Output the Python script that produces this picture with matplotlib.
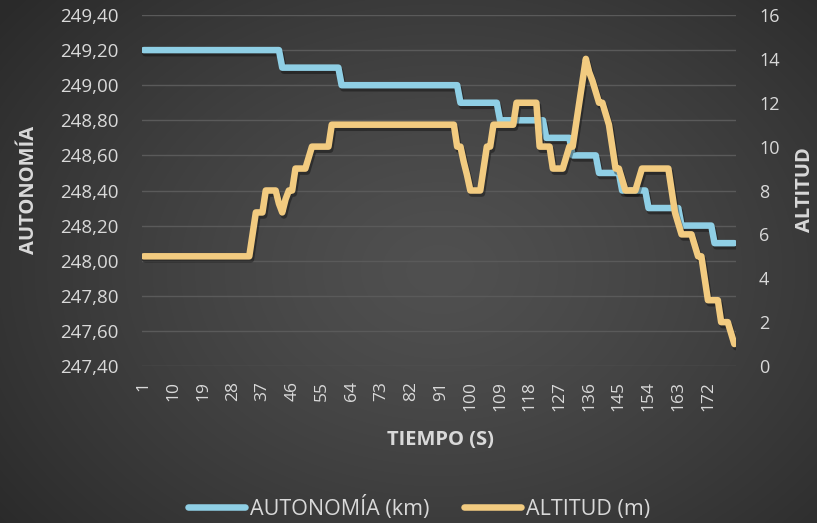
import numpy as np
import matplotlib
matplotlib.use("Agg")
import matplotlib.pyplot as plt
from matplotlib import patheffects as pe
from matplotlib.ticker import FuncFormatter

# Etiquetas del eje de tiempo (una cada 9 muestras)
tiempo_etiquetas = ["1", "10", "19", "28", "37", "46", "55", "64", "73", "82",
                    "91", "100", "109", "118", "127", "136", "145", "154", "163", "172"]

# Autonomía (km), una muestra por segundo
autonomia_km = [
    249.2, 249.2, 249.2, 249.2, 249.2, 249.2, 249.2, 249.2, 249.2, 249.2,
    249.2, 249.2, 249.2, 249.2, 249.2, 249.2, 249.2, 249.2, 249.2, 249.2,
    249.2, 249.2, 249.2, 249.2, 249.2, 249.2, 249.2, 249.2, 249.2, 249.2,
    249.2, 249.2, 249.2, 249.2, 249.2, 249.2, 249.2, 249.2, 249.2, 249.2,
    249.2, 249.2, 249.1, 249.1, 249.1, 249.1, 249.1, 249.1, 249.1, 249.1,
    249.1, 249.1, 249.1, 249.1, 249.1, 249.1, 249.1, 249.1, 249.1, 249.1,
    249.0, 249.0, 249.0, 249.0, 249.0, 249.0, 249.0, 249.0, 249.0, 249.0,
    249.0, 249.0, 249.0, 249.0, 249.0, 249.0, 249.0, 249.0, 249.0, 249.0,
    249.0, 249.0, 249.0, 249.0, 249.0, 249.0, 249.0, 249.0, 249.0, 249.0,
    249.0, 249.0, 249.0, 249.0, 249.0, 249.0, 248.9, 248.9, 248.9, 248.9,
    248.9, 248.9, 248.9, 248.9, 248.9, 248.9, 248.9, 248.9, 248.8, 248.8,
    248.8, 248.8, 248.8, 248.8, 248.8, 248.8, 248.8, 248.8, 248.8, 248.8,
    248.8, 248.8, 248.7, 248.7, 248.7, 248.7, 248.7, 248.7, 248.7, 248.7,
    248.6, 248.6, 248.6, 248.6, 248.6, 248.6, 248.6, 248.6, 248.5, 248.5,
    248.5, 248.5, 248.5, 248.5, 248.5, 248.4, 248.4, 248.4, 248.4, 248.4,
    248.4, 248.4, 248.4, 248.3, 248.3, 248.3, 248.3, 248.3, 248.3, 248.3,
    248.3, 248.3, 248.3, 248.2, 248.2, 248.2, 248.2, 248.2, 248.2, 248.2,
    248.2, 248.2, 248.2, 248.1, 248.1, 248.1, 248.1, 248.1, 248.1, 248.1,
]

# Altitud (m)
altitud_m = [
    5, 5, 5, 5, 5, 5, 5, 5, 5, 5,
    5, 5, 5, 5, 5, 5, 5, 5, 5, 5,
    5, 5, 5, 5, 5, 5, 5, 5, 5, 5,
    5, 5, 5, 6, 7, 7, 7, 8, 8, 8,
    8, 7.4, 7, 7.6, 8, 8, 9, 9, 9, 9,
    9.5, 10, 10, 10, 10, 10, 10, 11, 11, 11,
    11, 11, 11, 11, 11, 11, 11, 11, 11, 11,
    11, 11, 11, 11, 11, 11, 11, 11, 11, 11,
    11, 11, 11, 11, 11, 11, 11, 11, 11, 11,
    11, 11, 11, 11, 11, 10, 10, 9.3, 8.7, 8,
    8, 8, 8, 9, 10, 10, 11, 11, 11, 11,
    11, 11, 11, 12, 12, 12, 12, 12, 12, 12,
    10, 10, 10, 10, 9, 9, 9, 9, 9.5, 10,
    10, 11, 12, 13, 14, 13.4, 13, 12.5, 12, 12,
    11.5, 11, 10, 9, 9, 8.5, 8, 8, 8, 8,
    8.5, 9, 9, 9, 9, 9, 9, 9, 9, 9,
    8, 7, 6.5, 6, 6, 6, 6, 5.5, 5, 5,
    4, 3, 3, 3, 3, 2, 2, 2, 1.5, 1,
]

autonomia_ticks = [247.4, 247.6, 247.8, 248.0, 248.2, 248.4, 248.6, 248.8, 249.0, 249.2, 249.4]
altitud_ticks = [0, 2, 4, 6, 8, 10, 12, 14, 16]

COLOR_AUTONOMIA = "#8fcfe5"
COLOR_ALTITUD = "#f2cb80"
COLOR_TEXTO = "#d9d9d9"
COLOR_GRID = "#5a5a5a"

plt.rcParams["font.family"] = ["Open Sans", "DejaVu Sans"]

W, H = 817, 523
fig = plt.figure(figsize=(W / 100, H / 100), dpi=100)

# Fondo con degradado radial
fondo = fig.add_axes([0, 0, 1, 1], zorder=-10)
yy, xx = np.mgrid[0:H, 0:W]
r = np.sqrt(((xx - 440) / 560.0) ** 2 + ((yy - 270) / 420.0) ** 2)
r = np.clip(r, 0, 1)
centro = np.array([0x50, 0x50, 0x50]) / 255.0
borde = np.array([0x2a, 0x2a, 0x2a]) / 255.0
img = centro + (borde - centro) * (r[..., None] ** 1.3)
fondo.imshow(img, extent=[0, 1, 0, 1], aspect="auto", interpolation="bilinear")
fondo.axis("off")

left, right, top, bottom = 142, 736, 15, 366
ax = fig.add_axes([left / W, 1 - bottom / H, (right - left) / W, (bottom - top) / H])
ax.set_facecolor("none")
ax2 = ax.twinx()

x = np.arange(len(autonomia_km))
sombra = [pe.SimpleLineShadow(offset=(1.2, -2.2), shadow_color="black", alpha=0.35),
          pe.Normal()]

l1, = ax.plot(x, autonomia_km, color=COLOR_AUTONOMIA, lw=4.7,
              solid_capstyle="round", solid_joinstyle="round",
              path_effects=sombra, label="AUTONOMÍA (km)")
l2, = ax2.plot(x, altitud_m, color=COLOR_ALTITUD, lw=4.7,
               solid_capstyle="round", solid_joinstyle="round",
               path_effects=sombra, label="ALTITUD (m)")

ax.set_xlim(-0.5, len(x) - 0.5)
ax.set_ylim(247.4, 249.4)
ax2.set_ylim(0, 16)

ax.set_yticks(autonomia_ticks)
ax.yaxis.set_major_formatter(FuncFormatter(lambda v, p: f"{v:.2f}".replace(".", ",")))
ax2.set_yticks(altitud_ticks)

pos = [int(t) - 1 for t in tiempo_etiquetas]
ax.set_xticks(pos)
ax.set_xticklabels(tiempo_etiquetas, rotation=90)

ax.grid(axis="y", color=COLOR_GRID, lw=1.0)
ax.set_axisbelow(True)

for a in (ax, ax2):
    for s in a.spines.values():
        s.set_visible(False)
ax.tick_params(axis="y", length=0, pad=17, labelsize=13.5, labelcolor=COLOR_TEXTO)
ax.tick_params(axis="x", length=0, pad=11, labelsize=12.5, labelcolor=COLOR_TEXTO)
ax2.tick_params(axis="y", length=0, pad=16.5, labelsize=13, labelcolor=COLOR_TEXTO)

fig.text(29 / W, 1 - 190 / H, "AUTONOMÍA", rotation=90, ha="center", va="center",
         fontsize=14.5, fontweight="bold", color=COLOR_TEXTO)
fig.text(805 / W, 1 - 190 / H, "ALTITUD", rotation=90, ha="center", va="center",
         fontsize=14.5, fontweight="bold", color=COLOR_TEXTO)
fig.text(440 / W, 1 - 440 / H, "TIEMPO (S)", ha="center", va="center",
         fontsize=14.5, fontweight="bold", color=COLOR_TEXTO)

leg = fig.legend(handles=[l1, l2], loc="center", bbox_to_anchor=(419 / W, 1 - 508 / H),
                 ncol=2, frameon=False, fontsize=15.5, handlelength=2.65,
                 handletextpad=0.22, columnspacing=1.6)
for t in leg.get_texts():
    t.set_color(COLOR_TEXTO)
for h in leg.legend_handles:
    h.set_path_effects([])

fig.savefig("out.png", dpi=100)
